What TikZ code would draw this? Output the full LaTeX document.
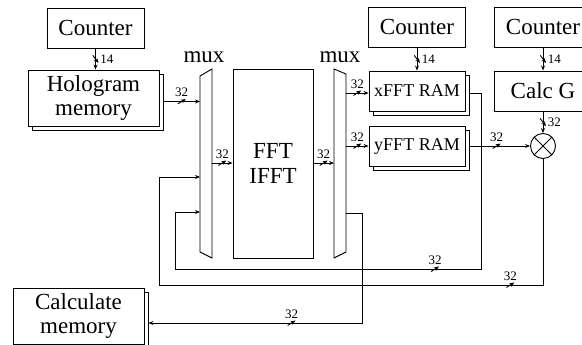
\documentclass[tikz,border=0pt]{standalone}
\usepackage{fontspec}
\setmainfont{Liberation Serif}
\usetikzlibrary{positioning, arrows.meta}

\begin{document}
\begin{tikzpicture}[
    x=1pt, y=-1pt,
    line width=0.9pt,
    box/.style={draw, fill=white, inner sep=0pt, align=center, font=\fontsize{23}{24.5}\selectfont},
    ram/.style={box, minimum width=96, minimum height=40, font=\fontsize{18}{20}\selectfont},
    mux label/.style={inner sep=0pt, anchor=base, font=\fontsize{23}{24}\selectfont},
    lbl/.style={font=\fontsize{13}{13}\selectfont, inner sep=1pt},
    hslash/.style={inner sep=0pt, minimum width=8, minimum height=5,
        path picture={\draw (path picture bounding box.south west) -- (path picture bounding box.north east);},
        label={[lbl]above:#1}},
    vslash/.style={inner sep=0pt, minimum width=6, minimum height=8,
        path picture={\draw (path picture bounding box.north west) -- (path picture bounding box.south east);},
        label={[lbl]right:#1}},
    arrow line/.style={->, >={Stealth[length=5pt, width=4pt]}}
]
    \useasboundingbox (0,0) rectangle (582,345);

    % Nodes
    \node[box, minimum width=97, minimum height=40] (cnt1) at (95.5,28) {Counter};
    \node[box, minimum width=131, minimum height=56] (holob) at (97.5,102) {};
    \node[box, minimum width=131, minimum height=56] (holo) at (93.5,98) {Hologram\\memory};

    \node[box, minimum width=80, minimum height=189] (fft) at (273,163.5) {FFT\\IFFT};

    \node[ram] (xfftb) at (421,95) {};
    \node[ram] (xfft) at (417,91) {xFFT RAM};
    \node[ram] (yfftb) at (421,150.5) {};
    \node[ram] (yfft) at (417,146.5) {yFFT RAM};
    \node[box, minimum width=97, minimum height=40] (cnt2) [above=23pt of xfft] {Counter};

    \node[box, minimum width=98, minimum height=40] (calcg) at (543,91) {Calc G};
    \node[box, minimum width=98, minimum height=40] (cnt3) [above=23pt of calcg] {Counter};
    \node[draw, circle, fill=white, minimum size=25, inner sep=0pt,
        path picture={\draw (path picture bounding box.north west) -- (path picture bounding box.south east)
            (path picture bounding box.north east) -- (path picture bounding box.south west);}] (mult) at (543,146) {};

    \node[box, minimum width=131, minimum height=56] (calcb) at (82.5,320) {};
    \node[box, minimum width=131, minimum height=56] (calc) at (78.5,316) {Calculate\\memory};

    % Multiplexers
    \draw (200,76) -- (212,69) -- (212,258) -- (200,252) -- cycle;
    \draw (334,69) -- (346,74) -- (346,252) -- (334,258) -- cycle;
    \node[mux label] (mux1) at (204,63) {mux};
    \node[mux label] (mux2) at (340,63) {mux};

    \coordinate (m1i1) at (200,101.5);
    \coordinate (m1i2) at (200,212);
    \coordinate (m1i3) at (200,177);
    \coordinate (m1o) at (212,163);
    \coordinate (m2i) at (334,163);
    \coordinate (m2o1) at (346,93);
    \coordinate (m2o2) at (346,146);
    \coordinate (m2o3) at (346,213);
    \coordinate (c1) at (481,269);
    \coordinate (c2) at (175,269);
    \coordinate (c3) at (543,285);
    \coordinate (c4) at (159,285);
    \coordinate (c5) at (362,323);

    % Edges with bus widths
    \draw[arrow line] (cnt1) -- node[vslash=14] {} (cnt1 |- holo.north);
    \draw[arrow line] (holob.east |- m1i1) -- node[hslash=32] {} (m1i1);
    \draw[arrow line] (m1o) -- node[hslash=32] {} (m1o -| fft.west);
    \draw[arrow line] (fft.east |- m2i) -- node[hslash=32] {} (m2i);
    \draw[arrow line] (m2o1) -- node[hslash=32] {} (m2o1 -| xfft.west);
    \draw[arrow line] (m2o2) -- node[hslash=32] {} (m2o2 -| yfft.west);
    \draw[arrow line] (cnt2) -- node[vslash=14] {} (xfft);
    \draw[arrow line] (cnt3) -- node[vslash=14] {} (calcg);
    \draw[arrow line] (calcg) -- node[vslash=32] {} (mult);
    \draw[arrow line] (yfftb.east |- mult) -- node[hslash=32, pos=.45] {} (mult);

    % Feedback paths
    \draw[arrow line] (xfftb.east |- m2o1) -| (c1) -- node[hslash=32, pos=.15] {} (c2) |- (m1i2);
    \draw[arrow line] (mult) -- (c3) -- node[hslash=32, pos=.085] {} (c4) |- (m1i3);
    \draw[arrow line] (m2o3) -| (c5) -- node[hslash=32, pos=.33] {} (calcb.east |- c5);

\end{tikzpicture}
\end{document}
